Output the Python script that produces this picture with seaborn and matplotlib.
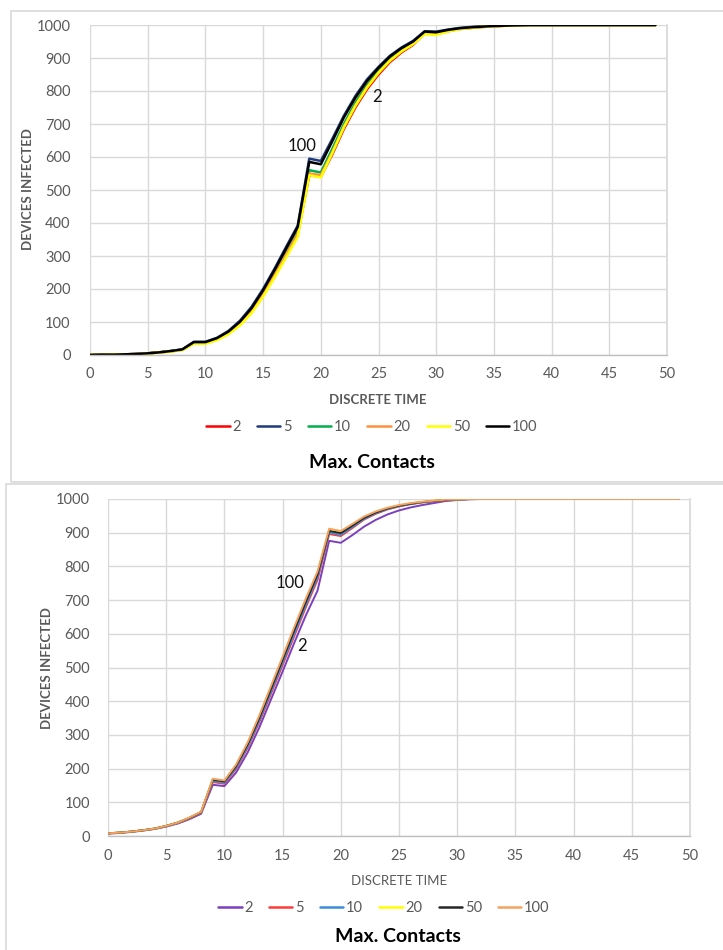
import matplotlib
matplotlib.use("Agg")
import matplotlib.pyplot as plt
from matplotlib.lines import Line2D
from matplotlib.patches import Rectangle
import numpy as np
import pandas as pd
import seaborn as sns

# ---- data -------------------------------------------------------------
time_steps = list(range(50))
contact_levels = ["2", "5", "10", "20", "50", "100"]

# upper panel: devices infected per max. contacts setting
upper_series = {
    "2":   [0, 1, 1, 2, 3, 5, 8, 11, 16, 36, 36, 47, 66, 94, 132, 183, 242, 303, 366, 545,
            540, 608, 685, 750, 805, 850, 888, 917, 940, 975, 972, 981, 988, 991, 994, 996, 998, 999,
            1000, 1000, 1000, 1000, 1000, 1000, 1000, 1000, 1000, 1000, 1000, 1000],
    "5":   [0, 1, 1, 2, 3, 5, 8, 12, 17, 40, 40, 52, 73, 104, 146, 200, 262, 328, 392, 595,
            588, 655, 725, 785, 835, 873, 907, 932, 952, 981, 980, 986, 991, 994, 996, 997, 998, 999,
            1000, 1000, 1000, 1000, 1000, 1000, 1000, 1000, 1000, 1000, 1000, 1000],
    "10":  [0, 1, 1, 2, 3, 5, 8, 12, 16, 37, 37, 49, 68, 97, 136, 188, 248, 312, 375, 560,
            553, 625, 700, 765, 818, 862, 898, 925, 946, 978, 975, 983, 989, 992, 995, 997, 998, 999,
            1000, 1000, 1000, 1000, 1000, 1000, 1000, 1000, 1000, 1000, 1000, 1000],
    "20":  [0, 1, 1, 2, 3, 5, 8, 11, 16, 36, 36, 48, 66, 95, 133, 184, 243, 305, 368, 550,
            545, 615, 692, 757, 812, 856, 893, 921, 943, 976, 974, 982, 988, 992, 995, 996, 998, 999,
            1000, 1000, 1000, 1000, 1000, 1000, 1000, 1000, 1000, 1000, 1000, 1000],
    "50":  [0, 0, 1, 1, 2, 4, 7, 10, 15, 34, 34, 45, 63, 90, 127, 177, 235, 296, 358, 545,
            538, 612, 690, 755, 810, 855, 892, 920, 942, 972, 970, 980, 987, 991, 994, 996, 997, 999,
            1000, 1000, 1000, 1000, 1000, 1000, 1000, 1000, 1000, 1000, 1000, 1000],
    "100": [0, 1, 1, 2, 3, 5, 8, 12, 17, 39, 39, 51, 71, 101, 142, 196, 258, 323, 388, 585,
            578, 648, 720, 780, 830, 870, 905, 930, 950, 980, 978, 985, 990, 993, 995, 997, 998, 999,
            1000, 1000, 1000, 1000, 1000, 1000, 1000, 1000, 1000, 1000, 1000, 1000],
}

# lower panel
lower_series = {
    "2":   [7, 9, 12, 16, 21, 28, 37, 50, 66, 152, 148, 188, 248, 322, 405, 488, 573, 655, 728, 876,
            870, 893, 918, 938, 954, 966, 975, 982, 988, 994, 997, 999,
            1000, 1000, 1000, 1000, 1000, 1000, 1000, 1000, 1000, 1000, 1000, 1000, 1000, 1000, 1000, 1000, 1000, 1000],
    "5":   [8, 10, 13, 17, 21, 29, 39, 52, 69, 160, 155, 199, 262, 338, 422, 507, 593, 679, 760, 896,
            890, 914, 939, 956, 969, 978, 985, 990, 994, 996, 998, 1000,
            1000, 1000, 1000, 1000, 1000, 1000, 1000, 1000, 1000, 1000, 1000, 1000, 1000, 1000, 1000, 1000, 1000, 1000],
    "10":  [8, 10, 13, 17, 22, 29, 39, 53, 70, 163, 158, 202, 266, 343, 428, 514, 600, 686, 768, 900,
            894, 917, 941, 958, 970, 979, 985, 990, 994, 997, 998, 1000,
            1000, 1000, 1000, 1000, 1000, 1000, 1000, 1000, 1000, 1000, 1000, 1000, 1000, 1000, 1000, 1000, 1000, 1000],
    "20":  [8, 10, 13, 17, 22, 30, 40, 54, 71, 168, 163, 209, 275, 354, 440, 527, 615, 700, 780, 908,
            902, 923, 946, 962, 973, 981, 987, 991, 995, 997, 999, 1000,
            1000, 1000, 1000, 1000, 1000, 1000, 1000, 1000, 1000, 1000, 1000, 1000, 1000, 1000, 1000, 1000, 1000, 1000],
    "50":  [8, 10, 13, 17, 22, 30, 40, 54, 71, 167, 162, 207, 272, 350, 436, 523, 610, 695, 776, 905,
            899, 921, 944, 960, 972, 980, 986, 991, 994, 997, 999, 1000,
            1000, 1000, 1000, 1000, 1000, 1000, 1000, 1000, 1000, 1000, 1000, 1000, 1000, 1000, 1000, 1000, 1000, 1000],
    "100": [8, 10, 13, 17, 22, 30, 40, 55, 72, 170, 165, 212, 278, 358, 445, 532, 620, 705, 785, 912,
            905, 926, 948, 963, 974, 982, 988, 992, 995, 998, 999, 1000,
            1000, 1000, 1000, 1000, 1000, 1000, 1000, 1000, 1000, 1000, 1000, 1000, 1000, 1000, 1000, 1000, 1000, 1000],
}

upper_colors = {"2": "#ff0000", "5": "#1f3a7a", "10": "#00b050",
                "20": "#ff9040", "50": "#ffff00", "100": "#000000"}
lower_colors = {"2": "#7b3fbf", "5": "#ff3b3b", "10": "#3a8fd8",
                "20": "#ffff00", "50": "#262626", "100": "#f4a261"}

x_ticks = [0, 5, 10, 15, 20, 25, 30, 35, 40, 45, 50]
y_ticks = [0, 100, 200, 300, 400, 500, 600, 700, 800, 900, 1000]


def to_long(series):
    rows = []
    for level in contact_levels:
        for t, v in zip(time_steps, series[level]):
            rows.append({"time": t, "infected": v, "contacts": level})
    return pd.DataFrame(rows)


sns.set_theme(style="white")
plt.rcParams["font.family"] = ["Lato", "DejaVu Sans"]

TICK_GREY = "#595959"
GRID_GREY = "#d9d9d9"

fig = plt.figure(figsize=(7.23, 9.5), dpi=100)

# panel frames
fig.patches.append(Rectangle((11 / 723, 1 - 482 / 950), 1.0, 471 / 950,
                             transform=fig.transFigure, fill=False,
                             edgecolor="#d9d9d9", linewidth=1.2, zorder=0))
fig.patches.append(Rectangle((6 / 723, -0.05), 1.0, 1 - 484 / 950 + 0.05,
                             transform=fig.transFigure, fill=False,
                             edgecolor="#d9d9d9", linewidth=1.2, zorder=0))


def style_axes(ax, tick_pad_x, tick_pad_y):
    ax.set_xlim(0, 50)
    ax.set_ylim(0, 1000)
    ax.set_xticks(x_ticks)
    ax.set_yticks(y_ticks)
    ax.grid(True, color=GRID_GREY, linewidth=1.0)
    ax.set_axisbelow(True)
    for side in ("top", "left"):
        ax.spines[side].set_visible(False)
    ax.spines["right"].set_color(GRID_GREY)
    ax.spines["bottom"].set_color("#bfbfbf")
    ax.spines["bottom"].set_linewidth(1.0)
    ax.tick_params(axis="x", colors=TICK_GREY, labelsize=10.5, length=0, pad=tick_pad_x)
    ax.tick_params(axis="y", colors=TICK_GREY, labelsize=10.5, length=0, pad=tick_pad_y)
    ax.set_xlabel("")
    ax.set_ylabel("")


# ---- upper chart ------------------------------------------------------
ax1 = fig.add_axes([90 / 723, 1 - 355 / 950, 577 / 723, 330 / 950])
sns.lineplot(data=to_long(upper_series), x="time", y="infected", hue="contacts",
             hue_order=contact_levels, palette=upper_colors, linewidth=1.8,
             legend=False, ax=ax1)
style_axes(ax1, 9, 14)
ax1.text(18.4, 633, "100", fontsize=12, ha="center", va="center", color="#111111")
ax1.text(24.9, 782, "2", fontsize=12, ha="center", va="center", color="#111111")

fig.text(378 / 723, 1 - 400 / 950, "DISCRETE TIME", ha="center", va="center",
         fontsize=9.5, fontweight="bold", color=TICK_GREY)
fig.text(28 / 723, 1 - 189 / 950, "DEVICES INFECTED", ha="center", va="center",
         rotation=90, fontsize=9.5, fontweight="bold", color=TICK_GREY)

handles1 = [Line2D([0], [0], color=upper_colors[k], lw=1.8) for k in contact_levels]
fig.legend(handles1, contact_levels, loc="center", bbox_to_anchor=(372 / 723, 1 - 427 / 950),
           ncol=6, frameon=False, fontsize=10.5, handlelength=1.6, handletextpad=0.2,
           columnspacing=1.1, labelcolor=TICK_GREY)
fig.text(372 / 723, 1 - 462 / 950, "Max. Contacts", ha="center", va="center",
         fontsize=14, fontweight="bold", color="#000000")

# ---- lower chart ------------------------------------------------------
ax2 = fig.add_axes([108 / 723, 1 - 836 / 950, 582 / 723, 337 / 950])
sns.lineplot(data=to_long(lower_series), x="time", y="infected", hue="contacts",
             hue_order=contact_levels, palette=lower_colors, linewidth=1.4,
             legend=False, ax=ax2)
style_axes(ax2, 9, 13)
ax2.text(15.6, 751, "100", fontsize=12, ha="center", va="center", color="#111111")
ax2.text(16.7, 564, "2", fontsize=12, ha="center", va="center", color="#111111")

fig.text(399 / 723, 1 - 881 / 950, "DISCRETE TIME", ha="center", va="center",
         fontsize=9.5, color=TICK_GREY)
fig.text(47 / 723, 1 - 668 / 950, "DEVICES INFECTED", ha="center", va="center",
         rotation=90, fontsize=9.5, fontweight="bold", color=TICK_GREY)

handles2 = [Line2D([0], [0], color=lower_colors[k], lw=1.8) for k in contact_levels]
fig.legend(handles2, contact_levels, loc="center", bbox_to_anchor=(384 / 723, 1 - 908 / 950),
           ncol=6, frameon=False, fontsize=10.5, handlelength=1.6, handletextpad=0.2,
           columnspacing=1.1, labelcolor=TICK_GREY)
fig.text(398 / 723, 1 - 937 / 950, "Max. Contacts", ha="center", va="center",
         fontsize=14, fontweight="bold", color="#000000")

fig.savefig("out.png", dpi=100)
